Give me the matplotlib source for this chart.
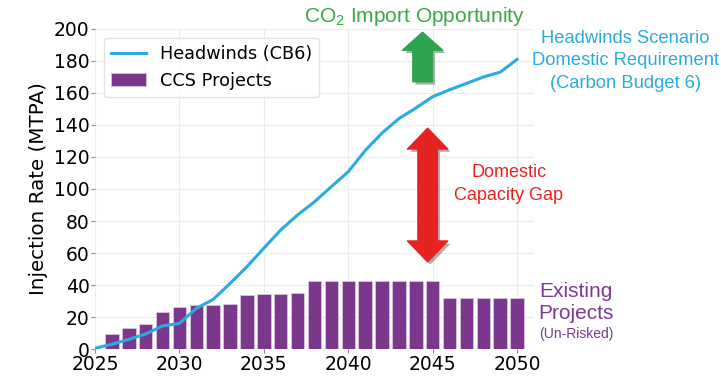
import numpy as np
import matplotlib
matplotlib.use('Agg')
import matplotlib.pyplot as plt
from matplotlib.patches import FancyArrowPatch
import matplotlib.patheffects as pe

#---------------------------------------------------------
# Dados
years = np.arange(2025, 2051)
headwinds = [0.5, 3, 6, 9.4, 14.4, 16, 25.4, 31, 41, 51.5, 63, 74.4, 83.8, 92,
             101.5, 110.8, 124, 135, 144, 150.6, 157.7, 162, 166, 170, 173, 181]

proj_years = np.arange(2026, 2051)
ccs = [9.4, 13.3, 15.4, 22.9, 26.2, 27.5, 27.5, 28, 33.7, 34.6, 34.6, 35.2,
       42.3, 42.3, 42.3, 42.3, 42.3, 42.3, 42.3, 42.3,
       32.1, 32.1, 32.1, 32.1, 32.1]

yticks = np.arange(0, 201, 20)
xticks = np.arange(2025, 2051, 5)

#---------------------------------------------------------
# Cores
c_line = '#29abe2'
c_bar = '#7a378b'
c_green = '#3aa845'
c_arrow_g = '#2ea44f'
c_red = '#e52421'
c_purple = '#7b3a96'

plt.rcParams['mathtext.fontset'] = 'custom'
plt.rcParams['mathtext.rm'] = 'Liberation Sans'

fig = plt.figure(figsize=(7.21, 3.78), dpi=100)
ax = fig.add_axes([0.1318, 0.0767, 0.6088, 0.8466])

ax.plot(years, headwinds, color=c_line, lw=2.2, label='Headwinds (CB6)', zorder=3)
ax.bar(proj_years, ccs, width=0.8, color=c_bar, edgecolor='#d9c6e0', linewidth=0.6,
       label='CCS Projects', zorder=2)

ax.set_xlim(2025, 2051)
ax.set_ylim(0, 200)
ax.set_xticks(xticks)
ax.set_yticks(yticks)
ax.tick_params(labelsize=13.5, length=3, color='#888888', pad=1)
ax.grid(True, color='#ececec', lw=0.8, zorder=0)
ax.set_axisbelow(True)
for s in ax.spines.values():
    s.set_visible(False)
ax.set_ylabel('Injection Rate (MTPA)', fontsize=14.3, labelpad=4)

ax.legend(loc='upper left', fontsize=12.7, frameon=True,
          borderaxespad=0.5, handlelength=2.0, edgecolor='#dddddd')

# Setas
shadow = [pe.SimplePatchShadow(offset=(2, -2), alpha=0.35), pe.Normal()]
seta_g = FancyArrowPatch((2044.4, 167), (2044.4, 198),
                         arrowstyle='simple,head_length=13,head_width=29,tail_width=14',
                         color=c_arrow_g, mutation_scale=1, clip_on=False, zorder=4,
                         shrinkA=0, shrinkB=0)
seta_g.set_path_effects(shadow)
ax.add_patch(seta_g)

for y_end in (138, 54.5):
    seta_r = FancyArrowPatch((2044.7, 96), (2044.7, y_end),
                             arrowstyle='simple,head_length=15,head_width=29,tail_width=14',
                             color=c_red, mutation_scale=1, zorder=4,
                             shrinkA=0, shrinkB=0)
    seta_r.set_path_effects(shadow)
    ax.add_patch(seta_r)

# Textos
fam = 'Liberation Sans'
ax.text(2043.9, 207.5, 'CO$_2$ Import Opportunity', color=c_green, fontsize=15,
        family=fam, ha='center', va='center', clip_on=False)
ax.text(2056.4, 180, 'Headwinds Scenario\nDomestic Requirement\n(Carbon Budget 6)',
        color=c_line, fontsize=13.2, family=fam, ha='center', va='center',
        multialignment='center', linespacing=1.45, clip_on=False)
ax.text(2049.5, 103, 'Domestic\nCapacity Gap', color=c_red, fontsize=13,
        family=fam, ha='center', va='center', multialignment='center',
        linespacing=1.5, clip_on=False)
ax.text(2053.5, 29, 'Existing\nProjects', color=c_purple, fontsize=15,
        family=fam, ha='center', va='center', multialignment='center',
        linespacing=1.15, clip_on=False)
ax.text(2053.5, 9.5, '(Un-Risked)', color=c_purple, fontsize=10,
        family=fam, ha='center', va='center', clip_on=False)

plt.savefig('out.png', dpi=100)
